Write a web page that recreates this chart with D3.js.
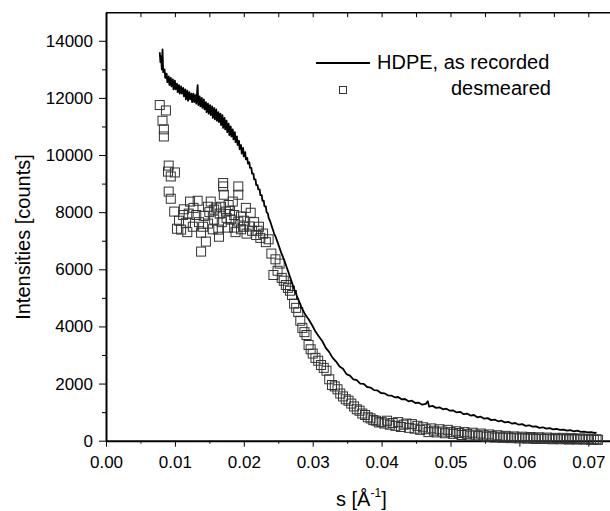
<!DOCTYPE html>
<html>
<head>
<meta charset="utf-8">
<script src="https://cdn.jsdelivr.net/npm/d3@7"></script>
<style>
  body { margin: 0; background: #fff; }
  text { font-family: "Liberation Sans", Arial, sans-serif; fill: #000; }
</style>
</head>
<body>
<script>
var width = 610;
var height = 511;

// s [1/A], intensity [counts]
var recorded = [
  [0.0078,13600],[0.0079,13250],[0.0080,13450],[0.0081,13000],[0.0082,13700],[0.0083,12900],
  [0.0085,13000],[0.0086,12700],[0.0088,12850],[0.0089,12550],[0.0091,12750],[0.0092,12450],
  [0.0094,12700],[0.0095,12400],[0.0097,12650],[0.0098,12300],[0.0100,12600],[0.0101,12300],
  [0.0103,12500],[0.0104,12200],[0.0106,12450],[0.0107,12150],[0.0109,12400],[0.0110,12150],
  [0.0112,12350],[0.0113,12050],[0.0115,12300],[0.0116,11950],[0.0118,12250],[0.0119,11900],
  [0.0121,12200],[0.0122,11950],[0.0124,12150],[0.0125,11850],[0.0127,12150],[0.0128,11850],
  [0.0130,12100],[0.0131,11800],[0.0133,12450],[0.0134,11750],[0.0136,12050],[0.0137,11700],
  [0.0139,12000],[0.0140,11650],[0.0142,11950],[0.0143,11600],[0.0145,11850],[0.0146,11500],
  [0.0148,11800],[0.0149,11450],[0.0151,11750],[0.0152,11400],[0.0154,11700],[0.0155,11300],
  [0.0157,11650],[0.0158,11250],[0.0160,11600],[0.0161,11200],[0.0163,11500],[0.0164,11150],
  [0.0166,11450],[0.0167,11050],[0.0169,11400],[0.0170,10950],[0.0172,11300],[0.0173,10900],
  [0.0175,11200],[0.0176,10800],[0.0178,11100],[0.0179,10700],[0.0181,11000],[0.0182,10650],
  [0.0184,10900],[0.0185,10550],[0.0187,10800],[0.0188,10450],[0.0190,10650],[0.0191,10350],
  [0.0193,10500],[0.0194,10200],[0.0196,10350],[0.0197,10050],[0.0199,10250],[0.0200,9950],
  [0.0202,10100],[0.0203,9850],[0.0205,9900],[0.0206,9700],[0.0208,9750],[0.0209,9550],
  [0.0211,9550],[0.0212,9350],[0.0214,9350],[0.0215,9150],[0.0217,9150],[0.0218,8950],
  [0.0220,8950],[0.0221,8800],[0.0223,8800],[0.0224,8600],[0.0226,8600],[0.0227,8400],
  [0.0229,8400],[0.0230,8200],[0.0232,8200],[0.0233,8000],[0.0235,7950],[0.0236,7800],
  [0.0238,7700],[0.0240,7550],[0.0242,7400],[0.0244,7250],[0.0246,7150],[0.0249,6950],
  [0.0254,6600],[0.0259,6300],[0.0264,5950],[0.0269,5600],[0.0274,5250],
  [0.0279,4950],[0.0284,4650],[0.0289,4420],[0.0294,4250],[0.0299,4050],[0.0304,3820],
  [0.0309,3650],[0.0314,3480],[0.0319,3250],[0.0324,3100],[0.0329,2900],[0.0334,2770],
  [0.0339,2600],[0.0344,2520],[0.0349,2330],[0.0354,2280],[0.0359,2150],[0.0364,2120],
  [0.0369,2000],[0.0374,1990],[0.0379,1880],[0.0384,1860],[0.0389,1770],[0.0394,1760],
  [0.0399,1670],[0.0404,1660],[0.0409,1590],[0.0414,1580],[0.0419,1520],[0.0424,1530],
  [0.0429,1450],[0.0434,1460],[0.0439,1380],[0.0444,1400],[0.0449,1320],[0.0454,1330],
  [0.0459,1260],[0.0464,1290],[0.0467,1380],[0.0469,1190],[0.0474,1220],[0.0479,1150],
  [0.0484,1170],[0.0489,1100],[0.0494,1120],[0.0499,1050],[0.0504,1060],[0.0509,990],
  [0.0514,1010],[0.0519,930],[0.0524,950],[0.0529,880],[0.0534,900],[0.0539,820],
  [0.0544,840],[0.0549,770],[0.0554,790],[0.0559,720],[0.0564,740],[0.0569,680],
  [0.0574,700],[0.0579,640],[0.0584,660],[0.0589,600],[0.0594,620],[0.0599,560],
  [0.0604,580],[0.0609,520],[0.0614,540],[0.0619,490],[0.0624,500],[0.0629,450],
  [0.0634,470],[0.0639,420],[0.0644,440],[0.0649,400],[0.0654,410],[0.0659,380],
  [0.0664,390],[0.0669,350],[0.0674,370],[0.0679,330],[0.0684,350],[0.0689,310],
  [0.0694,320],[0.0699,290],[0.0704,300],[0.0709,270],[0.0712,280]
];

var desmeared = [
  [0.0078,11750],[0.0087,11560],[0.0082,11200],[0.0084,10900],[0.0084,10650],
  [0.0091,9630],[0.0090,9420],[0.0100,9390],[0.0094,9250],[0.0091,8720],[0.0094,8470],[0.0099,8020],
  [0.0103,7420],[0.0106,7700],[0.0112,7900],[0.0122,8370],[0.0133,8400],[0.0131,7900],[0.0126,7490],
  [0.0141,7490],[0.0138,7280],[0.0142,7870],[0.0152,8370],[0.0160,8160],[0.0157,7740],[0.0163,7390],
  [0.0164,7140],[0.0170,9020],[0.0171,8610],[0.0174,8020],[0.0177,7460],[0.0184,8370],[0.0186,7900],
  [0.0192,7670],[0.0192,8610],[0.0145,6970],[0.0138,6620],[0.0116,7630],[0.0109,7390],
  [0.0148,8190],[0.0157,8090],[0.0167,8190],[0.0181,7740],[0.0196,7850],[0.0210,7980],[0.0222,7490],
  [0.0186,7460],[0.0200,7490],[0.0170,8900],[0.0192,8900],[0.0113,8100],[0.0118,7300],[0.0120,7950],
  [0.0127,8150],[0.0135,7650],[0.0148,7600],[0.0150,8000],[0.0155,7400],[0.0168,7650],[0.0175,7800],
  [0.0180,8050],[0.0188,7300],[0.0196,7400],[0.0200,7700],[0.0204,7250],[0.0208,7500],[0.0212,7350],
  [0.0215,7650],[0.0218,7200],[0.0203,8150],[0.0178,8250],[0.0165,7950],
  [0.0220,7350],[0.0224,7100],[0.0228,7250],[0.0232,6950],[0.0236,7050],[0.0240,6550],[0.0243,5800],
  [0.0246,6350],[0.0249,5950],[0.0252,6200],[0.0255,5700],[0.0258,5600],[0.0261,5450],[0.0264,5350],
  [0.0267,5250],[0.0270,5100],[0.0273,4800],[0.0276,4650],[0.0279,4500],[0.0282,4200],[0.0285,3950],
  [0.0288,3800],[0.0291,3700],[0.0294,3350],[0.0297,3200],[0.0300,3050],[0.0304,2900],[0.0308,2800],
  [0.0312,2650],[0.0316,2550],[0.0320,2450],[0.0324,2150],[0.0328,1950],[0.0332,1900],[0.0336,1800],
  [0.0340,1650],[0.0344,1550],[0.0348,1450],[0.0352,1400],[0.0356,1300],[0.0360,1200],[0.0364,1100],
  [0.0368,1050],[0.0372,950],[0.0376,900],[0.0380,820],[0.0384,780],[0.0388,720],[0.0392,700],
  [0.0396,640],[0.0400,650],
  [0.0404,600],[0.0408,700],[0.0412,560],[0.0416,620],[0.0420,520],[0.0424,650],[0.0428,480],
  [0.0432,560],[0.0436,600],[0.0440,450],[0.0444,580],[0.0448,420],[0.0452,520],[0.0456,380],
  [0.0460,470],[0.0464,400],[0.0468,300],[0.0472,430],[0.0476,350],[0.0480,290],[0.0484,400],
  [0.0488,320],[0.0492,260],[0.0496,380],[0.0500,300],[0.0504,240],[0.0508,330],[0.0512,270],
  [0.0516,200],[0.0520,300],[0.0524,240],[0.0528,180],[0.0532,280],[0.0536,210],[0.0540,160],
  [0.0544,250],[0.0548,190],[0.0552,140],[0.0556,220],[0.0560,160],[0.0564,110],[0.0568,190],
  [0.0572,140],[0.0576,100],[0.0580,170],[0.0584,120],[0.0588,90],[0.0592,150],[0.0596,110],
  [0.0600,80],[0.0604,140],[0.0608,100],[0.0612,70],[0.0616,130],[0.0620,90],[0.0624,60],
  [0.0628,120],[0.0632,80],[0.0636,60],[0.0640,110],[0.0644,70],[0.0648,50],[0.0652,100],
  [0.0656,70],[0.0660,50],[0.0664,100],[0.0668,60],[0.0672,40],[0.0676,90],[0.0680,60],
  [0.0684,40],[0.0688,80],[0.0692,50],[0.0696,40],[0.0700,70],[0.0704,40],[0.0708,30],
  [0.0712,50],[0.0714,30]
];

var xTicks = [0, 0.01, 0.02, 0.03, 0.04, 0.05, 0.06, 0.07];
var xMinor = [0.005, 0.015, 0.025, 0.035, 0.045, 0.055, 0.065];
var yTicks = [0, 2000, 4000, 6000, 8000, 10000, 12000, 14000];
var yMinor = [1000, 3000, 5000, 7000, 9000, 11000, 13000];

var svg = d3.select("body")
  .append("svg")
  .attr("width", width)
  .attr("height", height);

var xScale = d3.scaleLinear()
  .domain([0, 0.075])
  .range([106, 106 + 0.075 * 6890]);

var yScale = d3.scaleLinear()
  .domain([0, 15000])
  .range([440.7, 12.2]);

// bottom axis
var xAxis = svg.append("g")
  .attr("transform", "translate(0,440.7)")
  .call(d3.axisBottom(xScale).tickValues(xTicks).tickFormat(d3.format(".2f"))
    .tickSize(6).tickSizeOuter(0).tickPadding(9));
xAxis.select(".domain").attr("stroke-width", 2);
xAxis.selectAll("text").attr("font-size", 17).attr("font-family", "Liberation Sans, Arial, sans-serif");

svg.append("g")
  .attr("transform", "translate(0,440.7)")
  .call(d3.axisBottom(xScale).tickValues(xMinor).tickFormat("").tickSize(3).tickSizeOuter(0))
  .select(".domain").remove();

// top frame with inward ticks
svg.append("g")
  .attr("transform", "translate(0,12.2)")
  .call(d3.axisBottom(xScale).tickValues(xTicks.concat(xMinor)).tickFormat("").tickSize(5).tickSizeOuter(0))
  .select(".domain").attr("stroke-width", 1.5);

// left axis
var yAxis = svg.append("g")
  .attr("transform", "translate(106,0)")
  .call(d3.axisLeft(yScale).tickValues(yTicks).tickFormat(d3.format("d"))
    .tickSize(7).tickSizeOuter(0).tickPadding(6));
yAxis.select(".domain").attr("stroke-width", 2);
yAxis.selectAll("text").attr("font-size", 17).attr("font-family", "Liberation Sans, Arial, sans-serif");

svg.append("g")
  .attr("transform", "translate(106,0)")
  .call(d3.axisLeft(yScale).tickValues(yMinor).tickFormat("").tickSize(4).tickSizeOuter(0))
  .select(".domain").remove();

// desmeared squares
svg.selectAll("rect.pt")
  .data(desmeared)
  .enter()
  .append("rect")
    .attr("class", "pt")
    .attr("x", function(d) { return xScale(d[0]) - 4.5; })
    .attr("y", function(d) { return yScale(d[1]) - 4.5; })
    .attr("width", 9)
    .attr("height", 9)
    .attr("fill", "none")
    .attr("stroke", "#333")
    .attr("stroke-width", 1);

// as recorded line
var line = d3.line()
  .x(function(d) { return xScale(d[0]); })
  .y(function(d) { return yScale(d[1]); });

svg.append("path")
  .datum(recorded)
  .attr("d", line)
  .attr("fill", "none")
  .attr("stroke", "#000")
  .attr("stroke-width", 1.8)
  .attr("stroke-linejoin", "round");

// legend
svg.append("line")
  .attr("x1", 316).attr("x2", 370)
  .attr("y1", 63).attr("y2", 63)
  .attr("stroke", "#000")
  .attr("stroke-width", 2);
svg.append("text")
  .attr("x", 377).attr("y", 69)
  .attr("font-size", 20)
  .text("HDPE, as recorded");
svg.append("rect")
  .attr("x", 339.5).attr("y", 86.5)
  .attr("width", 7).attr("height", 7)
  .attr("fill", "none")
  .attr("stroke", "#333");
svg.append("text")
  .attr("x", 551).attr("y", 95)
  .attr("text-anchor", "end")
  .attr("font-size", 20)
  .text("desmeared");

// axis titles
svg.append("text")
  .attr("transform", "translate(30,237) rotate(-90)")
  .attr("text-anchor", "middle")
  .attr("font-size", 20)
  .text("Intensities [counts]");

var xTitle = svg.append("text")
  .attr("x", 336).attr("y", 506)
  .attr("font-size", 20);
xTitle.append("tspan").text("s [Å");
xTitle.append("tspan").attr("font-size", 12).attr("dy", -9).text("-1");
xTitle.append("tspan").attr("dy", 9).text("]");
</script>
</body>
</html>
